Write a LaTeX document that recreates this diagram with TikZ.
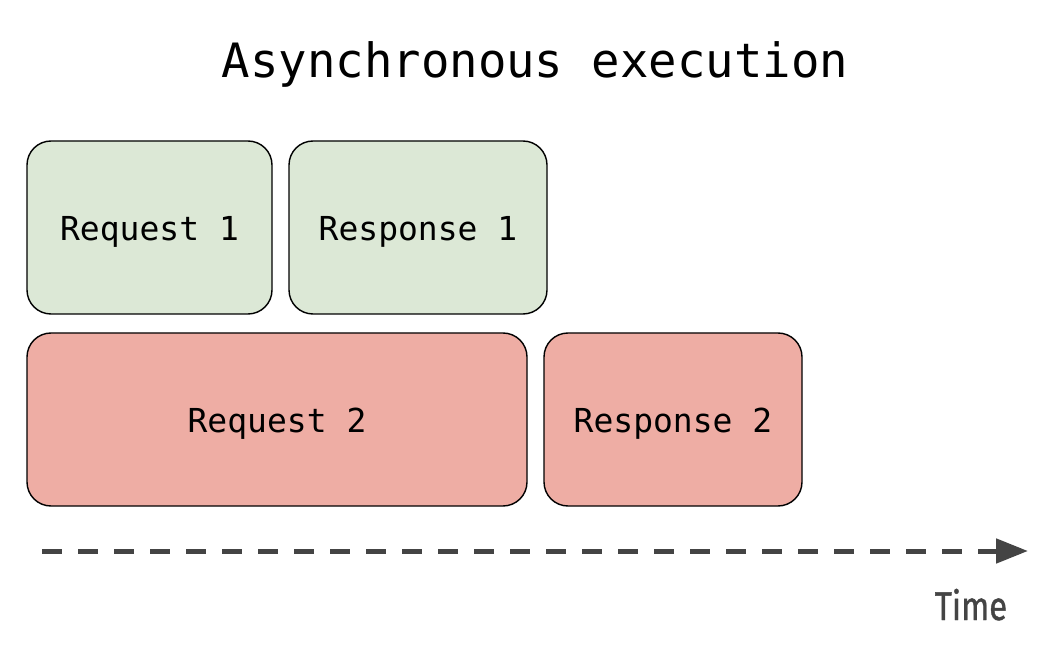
\documentclass[tikz,border=0pt]{standalone}
\usepackage{fontspec}
\setmonofont{DejaVu Sans Mono}
\newfontfamily\timefont[FakeBold=1.2]{Fira Sans}
\usetikzlibrary{arrows.meta}
\definecolor{greenfill}{HTML}{DCE8D6}
\definecolor{redfill}{HTML}{EEADA4}
\definecolor{arrowgray}{HTML}{444444}
\tikzset{
  blk/.style={draw=black, line width=1.4pt, rounded corners=24pt, inner sep=0pt,
    font=\ttfamily\fontsize{33}{40}\selectfont},
  greenblk/.style={blk, fill=greenfill},
  redblk/.style={blk, fill=redfill},
  lbl/.style={yshift=-4pt},
}
\begin{document}
\begin{tikzpicture}[x=1pt,y=-1pt]
\useasboundingbox (0,0) rectangle (1042,652);
\node[font=\ttfamily\fontsize{47.3}{56}\selectfont, anchor=base] (title) at (535,78) {Asynchronous execution};
\draw[greenblk] (27,141) rectangle node[lbl] (r1) {Request 1} (272,314);
\draw[greenblk] (289,141) rectangle node[lbl] (s1) {Response 1} (547,314);
\draw[redblk] (27,333) rectangle node[lbl] (r2) {Request 2} (527,506);
\draw[redblk] (544,333) rectangle node[lbl] (s2) {Response 2} (802,506);
\coordinate (a0) at (42,551);
\coordinate (a1) at (1028,551);
\draw[arrowgray, line width=5pt, dash pattern=on 20pt off 16pt, -{Triangle[length=32pt,width=24pt]}] (a0) -- (a1);
\node[text=arrowgray, anchor=base, inner sep=0pt] (time) at (971,620) {\scalebox{0.82}[1]{\timefont\fontsize{40}{48}\selectfont Time}};
\end{tikzpicture}
\end{document}
